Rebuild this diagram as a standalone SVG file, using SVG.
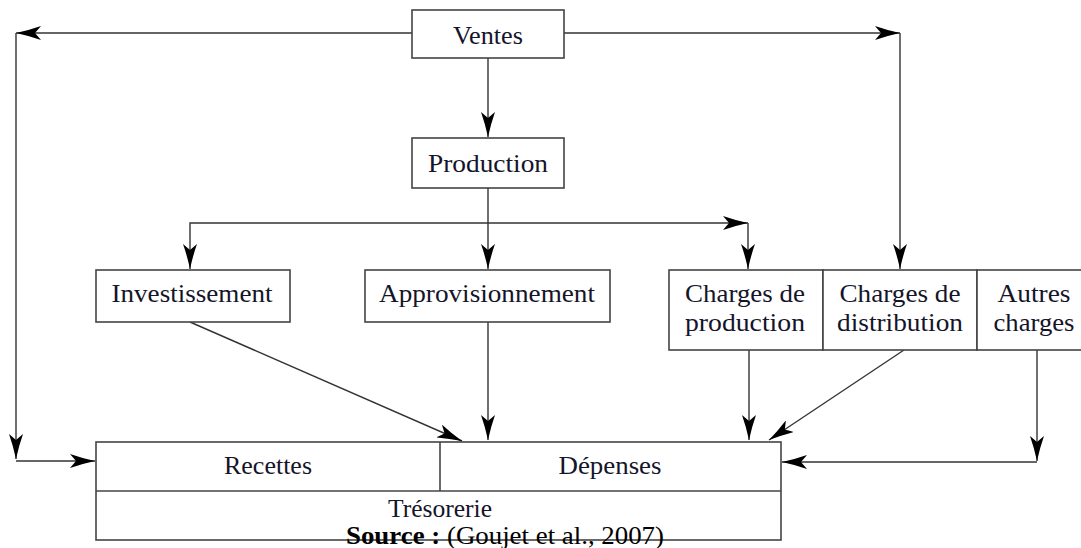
<svg xmlns="http://www.w3.org/2000/svg" width="1081" height="548" viewBox="0 0 1081 548">
  <style>
    .box { fill: #ffffff; stroke: #444444; stroke-width: 1.6; }
    .lbl { font-family: "Liberation Serif", "Times New Roman", serif; font-size: 26px; fill: #14142a; text-anchor: middle; }
    .conn path { fill: none; stroke: #333333; stroke-width: 1.4; }
    .arr { marker-end: url(#tip); }
    .src { font-family: "Liberation Serif", "Times New Roman", serif; font-size: 26px; fill: #000000; }
  </style>
  <defs>
    <marker id="tip" viewBox="0 0 25 14" refX="25" refY="7" markerWidth="25" markerHeight="14" markerUnits="userSpaceOnUse" orient="auto">
      <path d="M25,7 Q12,4.2 0,0 L6,7 L0,14 Q12,9.8 25,7 Z" fill="#000000"/>
    </marker>
  </defs>

  <rect width="1081" height="548" fill="#ffffff"/>

  <!-- connectors -->
  <g id="connectors" class="conn">
    <!-- Ventes to the left rail and down to Recettes -->
    <path class="arr" d="M412,33 H16"/>
    <path class="arr" d="M16,33 V459"/>
    <path class="arr" d="M16,461 H95"/>
    <!-- Ventes to Charges de distribution -->
    <path class="arr" d="M564,33 H900"/>
    <path class="arr" d="M900,33 V269"/>
    <!-- Ventes to Production -->
    <path class="arr" d="M488,58 V137"/>
    <!-- Production branches -->
    <path class="arr" d="M488,188 V269"/>
    <path class="arr" d="M488,223 H190 V269"/>
    <path class="arr" d="M488,223 H748"/>
    <path class="arr" d="M748,223 V269"/>
    <!-- into Dépenses -->
    <path class="arr" d="M190,322 L462,441"/>
    <path class="arr" d="M488,322 V440"/>
    <path class="arr" d="M749,350 V440"/>
    <path class="arr" d="M904,350 L769,440"/>
    <path class="arr" d="M1037,350 V461"/>
    <path class="arr" d="M1037,462 H782"/>
  </g>

  <g id="ventes">
    <rect class="box" x="412" y="10" width="152" height="48"/>
    <text class="lbl" x="488" y="44" textLength="70" lengthAdjust="spacingAndGlyphs">Ventes</text>
  </g>

  <g id="production">
    <rect class="box" x="412" y="138" width="152" height="50"/>
    <text class="lbl" x="488" y="172" textLength="120" lengthAdjust="spacingAndGlyphs">Production</text>
  </g>

  <g id="investissement">
    <rect class="box" x="96" y="270" width="194" height="52"/>
    <text class="lbl" x="192" y="302" textLength="161" lengthAdjust="spacingAndGlyphs">Investissement</text>
  </g>

  <g id="approvisionnement">
    <rect class="box" x="365" y="270" width="245" height="52"/>
    <text class="lbl" x="487" y="302" textLength="216" lengthAdjust="spacingAndGlyphs">Approvisionnement</text>
  </g>

  <g id="charges-production">
    <rect class="box" x="669" y="270" width="154" height="80"/>
    <text class="lbl" x="745" y="302" textLength="120" lengthAdjust="spacingAndGlyphs">Charges de</text>
    <text class="lbl" x="745" y="331" textLength="120" lengthAdjust="spacingAndGlyphs">production</text>
  </g>

  <g id="charges-distribution">
    <rect class="box" x="823" y="270" width="154" height="80"/>
    <text class="lbl" x="900" y="302" textLength="121" lengthAdjust="spacingAndGlyphs">Charges de</text>
    <text class="lbl" x="900" y="331" textLength="126" lengthAdjust="spacingAndGlyphs">distribution</text>
  </g>

  <g id="autres-charges">
    <rect class="box" x="977" y="270" width="120" height="80"/>
    <text class="lbl" x="1034" y="302" textLength="73" lengthAdjust="spacingAndGlyphs">Autres</text>
    <text class="lbl" x="1034" y="331" textLength="81" lengthAdjust="spacingAndGlyphs">charges</text>
  </g>

  <g id="tresorerie">
    <rect class="box" x="96" y="442" width="685" height="98"/>
    <line x1="96" y1="491" x2="781" y2="491" stroke="#444444" stroke-width="1.6"/>
    <line x1="440" y1="442" x2="440" y2="491" stroke="#444444" stroke-width="1.6"/>
    <text class="lbl" x="268" y="474" textLength="88" lengthAdjust="spacingAndGlyphs">Recettes</text>
    <text class="lbl" x="610" y="474" textLength="103" lengthAdjust="spacingAndGlyphs">Dépenses</text>
    <text class="lbl" x="440" y="517" textLength="104" lengthAdjust="spacingAndGlyphs">Trésorerie</text>
  </g>

  <text class="src" x="346" y="544" textLength="318" lengthAdjust="spacingAndGlyphs"><tspan font-weight="bold">Source :</tspan> (Goujet et al., 2007)</text>
</svg>
